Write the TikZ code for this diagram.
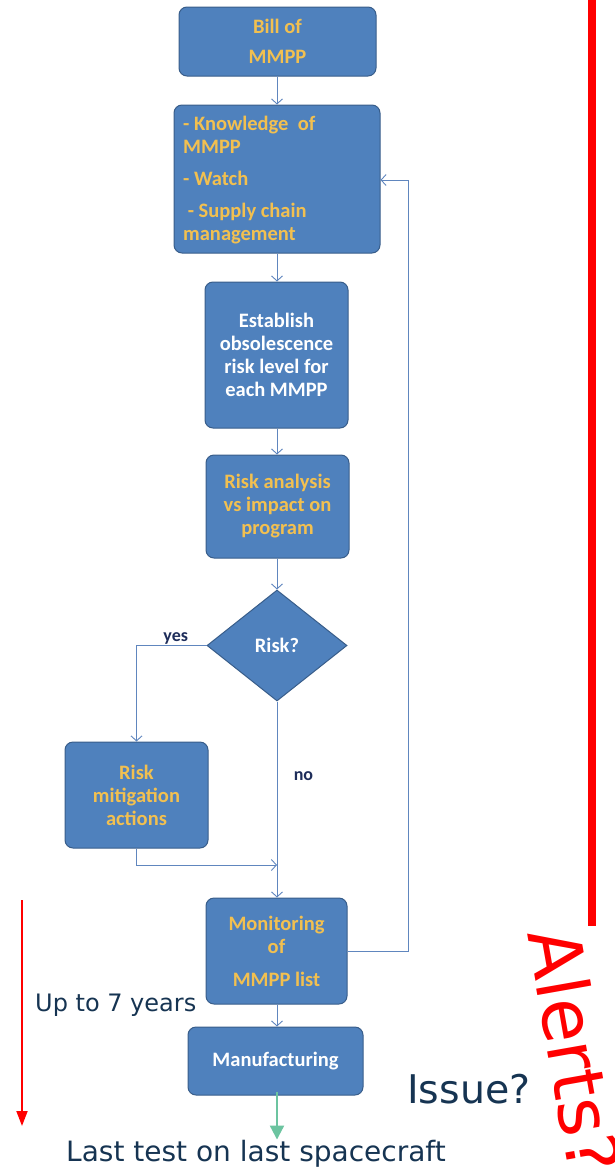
\documentclass[tikz,border=0pt]{standalone}
\usepackage{fontspec}
\setmainfont{Carlito}
\newfontfamily\annot{DejaVu Sans}
\usetikzlibrary{shapes.geometric,arrows.meta}
\definecolor{boxfill}{RGB}{79,129,189}
\definecolor{boxline}{RGB}{56,93,138}
\definecolor{boxtext}{RGB}{242,192,80}
\definecolor{linkcol}{RGB}{96,134,190}
\definecolor{navy}{RGB}{22,52,82}
\definecolor{labelcol}{RGB}{30,45,90}
\definecolor{greenarrow}{RGB}{108,196,160}
\tikzset{
  boxfont/.style={font=\fontsize{20.5}{23}\selectfont\bfseries},
  flowbox/.style={draw=boxline, line width=1pt, fill=boxfill, rounded corners=8pt,
    inner sep=0pt, boxfont, text=boxtext, align=center},
  whitetext/.style={text=white},
  decision/.style={diamond, draw=boxline, line width=1pt, fill=boxfill, inner sep=0pt,
    minimum width=140pt, minimum height=111pt, boxfont, text=white},
  link/.style={draw=linkcol, line width=0.9pt, -{Straight Barb[length=5pt,width=11pt,line width=0.9pt]}},
  branchlabel/.style={font=\fontsize{18}{20}\selectfont\bfseries, text=labelcol},
  note/.style={text=navy, inner sep=0pt}
}
\begin{document}
\begin{tikzpicture}[x=1pt,y=-1pt]
\useasboundingbox (0,0) rectangle (615,1167);

% process boxes
\node[flowbox, minimum width=197pt, minimum height=69pt] (bill) at (277.5,41.5)
  {Bill of\\[7pt]MMPP};
\node[flowbox, minimum width=206pt, minimum height=148pt] (know) at (277,179) {};
\node[boxfont, text=boxtext, align=left, anchor=north west, inner sep=0pt] (knowtext) at (183,116)
  {- Knowledge\ \ of\\MMPP\\[9pt]- Watch\\[9pt]\ - Supply chain\\management};
\node[flowbox, whitetext, minimum width=143pt, minimum height=146pt] (estab) at (276.5,355)
  {Establish\\obsolescence\\risk level for\\each MMPP};
\node[flowbox, minimum width=143pt, minimum height=103pt] (anal) at (277.5,506.5)
  {Risk analysis\\vs impact on\\program};
\node[decision] (risk) at (277,645.5) {Risk?};
\node[flowbox, minimum width=143pt, minimum height=106pt] (mitig) at (136.5,795)
  {Risk\\mitigation\\actions};
\node[flowbox, minimum width=141pt, minimum height=106pt] (monit) at (276.5,951)
  {Monitoring\\of\\[10pt]MMPP list};
\node[flowbox, whitetext, minimum width=175pt, minimum height=68pt] (manuf) at (275.5,1061)
  {Manufacturing};

% connectors
\draw[link] (bill.south -| risk.north) -- (know.north -| risk.north);
\draw[link] (know.south -| risk.north) -- (estab.north -| risk.north);
\draw[link] (estab.south -| risk.north) -- (anal.north -| risk.north);
\draw[link] (anal.south -| risk.north) -- (risk.north);
\draw[link] (risk.west) -| (mitig.north) node[pos=0.22, above=-3pt, branchlabel] (yes) {yes};
\draw[link] (risk.south) -- (monit.north -| risk.south)
  node[pos=0.38, right=13pt, branchlabel] (no) {no};
\coordinate (join) at (risk.south |- 0,865);
\draw[link] (mitig.south) |- (join);
\coordinate (loopcorner) at (408,951);
\draw[link] (monit.east) -- (loopcorner) |- (know.east |- 0,180);
\draw[link] (monit.south -| risk.south) -- (manuf.north -| risk.south);

% final output arrow
\node[note, font=\annot\fontsize{28}{32}\selectfont, anchor=base] (last) at (256,1161)
  {Last test on last spacecraft};
\draw[greenarrow, line width=2.2pt, -{Triangle[length=14pt,width=14pt]}]
  (manuf.south -| risk.south) ++(0,-4) coordinate (gstart) -- (gstart |- last.north);

% time span
\coordinate (spantop) at (22,900);
\coordinate (spanend) at (22,1126);
\draw[red, line width=1.8pt, -{Triangle[length=15pt,width=11pt]}] (spantop) -- (spanend);
\node[note, font=\annot\fontsize{24}{26}\selectfont, anchor=base west] (years) at (35,1011) {Up to 7 years};
\node[note, font=\annot\fontsize{39.5}{42}\selectfont, anchor=base west] (issue) at (407,1103) {Issue?};

% alerts
\coordinate (alerttop) at (592,0);
\coordinate (alertbot) at (592,926);
\draw[red, line width=8pt] (alerttop) -- (alertbot);
\node[text=red, font=\annot\fontsize{72}{74}\selectfont, rotate=-80, inner sep=0pt] (alerts)
  at (575,1051) {Alerts?};
\end{tikzpicture}
\end{document}
